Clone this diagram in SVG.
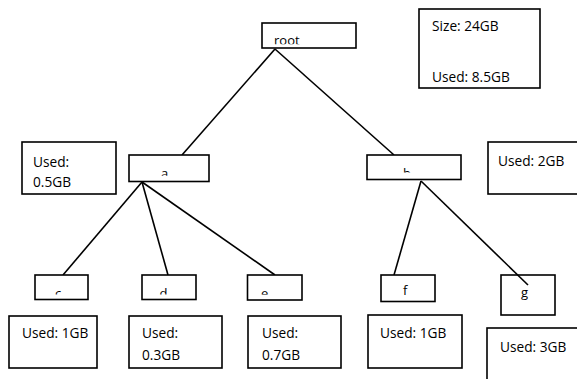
<svg xmlns="http://www.w3.org/2000/svg" width="577" height="379" viewBox="0 0 577 379">
<style>
  .box { fill: #ffffff; stroke: #000000; stroke-width: 1.6; }
  .t { font-family: "Open Sans", "Liberation Sans", sans-serif; font-size: 13.7px; fill: #000000; }
  .lbl { font-family: "Open Sans", "Liberation Sans", sans-serif; font-size: 13px; fill: #000000; }
  .edge { stroke: #000000; stroke-width: 1.6; fill: none; }
</style>
<defs>
  <clipPath id="cRoot"><rect x="262" y="23" width="94" height="21.3"/></clipPath>
  <clipPath id="cA"><rect x="129" y="155" width="80" height="20.7"/></clipPath>
  <clipPath id="cB"><rect x="367" y="155" width="94" height="17.6"/></clipPath>
  <clipPath id="cBottom"><rect x="0" y="275" width="577" height="19.6"/></clipPath>
</defs>
<rect width="577" height="379" fill="#ffffff"/>
<g id="connectors">
  <line class="edge" x1="275" y1="49" x2="182" y2="155"/>
  <line class="edge" x1="275" y1="49" x2="394" y2="155"/>
  <line class="edge" x1="142" y1="182" x2="63" y2="275"/>
  <line class="edge" x1="142" y1="182" x2="168" y2="275"/>
  <line class="edge" x1="142" y1="182" x2="275" y2="275"/>
  <line class="edge" x1="421" y1="181" x2="394" y2="275"/>
</g>
<g id="node-root">
  <rect class="box" x="262" y="23" width="94" height="25"/>
  <text class="lbl" x="274" y="45" clip-path="url(#cRoot)">root</text>
</g>
<g id="info-size">
  <rect class="box" x="419" y="9" width="121" height="79"/>
  <text class="t" x="432" y="30.5">Size: 24GB</text>
  <text class="t" x="432" y="82">Used: 8.5GB</text>
</g>
<g id="node-a">
  <rect class="box" x="129" y="155" width="80" height="26.5"/>
  <text class="lbl" x="161" y="178" clip-path="url(#cA)">a</text>
</g>
<g id="info-a">
  <rect class="box" x="22" y="142" width="94" height="52"/>
  <text class="t" x="33" y="166.5">Used:</text>
  <text class="t" x="33" y="187">0.5GB</text>
</g>
<g id="node-b">
  <rect class="box" x="367" y="155" width="94" height="24.5"/>
  <text class="lbl" x="403" y="177.5" clip-path="url(#cB)">b</text>
</g>
<g id="info-b">
  <rect class="box" x="488" y="142" width="96" height="52"/>
  <text class="t" x="498" y="165.5">Used: 2GB</text>
</g>
<g id="node-c">
  <rect class="box" x="35" y="275" width="53" height="24.5"/>
  <text class="lbl" x="55" y="297.5" clip-path="url(#cBottom)">c</text>
</g>
<g id="node-d">
  <rect class="box" x="142" y="275" width="54" height="24.5"/>
  <text class="lbl" x="159.5" y="297.5" clip-path="url(#cBottom)">d</text>
</g>
<g id="node-e">
  <rect class="box" x="247.5" y="275" width="54.5" height="25"/>
  <text class="lbl" x="261" y="297.5" clip-path="url(#cBottom)">e</text>
</g>
<g id="node-f">
  <rect class="box" x="381" y="275" width="54" height="26.5"/>
  <text class="lbl" x="403" y="295">f</text>
</g>
<g id="node-g">
  <rect class="box" x="501" y="275" width="54" height="40"/>
  <text class="lbl" x="521" y="297">g</text>
</g>
<line class="edge" x1="421" y1="181" x2="528" y2="285"/>
<g id="info-c">
  <rect class="box" x="9" y="316" width="88" height="52"/>
  <text class="t" x="22" y="338">Used: 1GB</text>
</g>
<g id="info-d">
  <rect class="box" x="129" y="316" width="93" height="52"/>
  <text class="t" x="142" y="338">Used:</text>
  <text class="t" x="142" y="359.5">0.3GB</text>
</g>
<g id="info-e">
  <rect class="box" x="248" y="316" width="93" height="52"/>
  <text class="t" x="262" y="338">Used:</text>
  <text class="t" x="262" y="359.5">0.7GB</text>
</g>
<g id="info-f">
  <rect class="box" x="368" y="315" width="94" height="53"/>
  <text class="t" x="380" y="337.5">Used: 1GB</text>
</g>
<g id="info-g">
  <rect class="box" x="487" y="328" width="100" height="60"/>
  <text class="t" x="500" y="352">Used: 3GB</text>
</g>
</svg>
